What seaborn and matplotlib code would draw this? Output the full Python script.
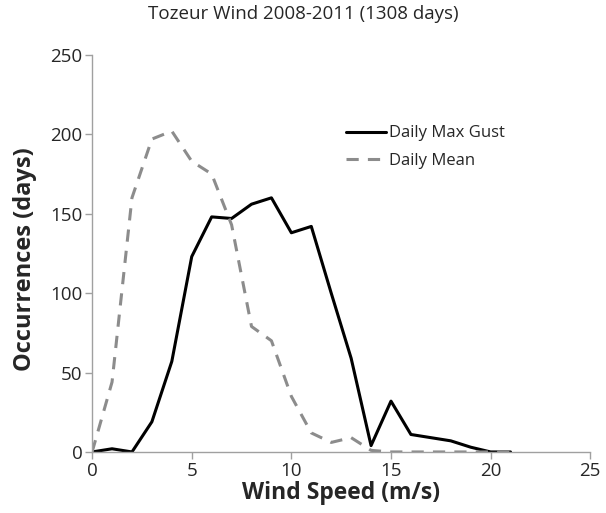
import pandas as pd
import matplotlib.pyplot as plt
import seaborn as sns

# wind speed bins (m/s) and occurrences (days)
speed = list(range(0, 22))
max_gust = [0, 2, 0, 19, 57, 123, 148, 147, 156, 160, 138, 142,
            100, 59, 4, 32, 11, 9, 7, 3, 0, 0]
daily_mean = [0, 44, 160, 197, 202, 183, 175, 143, 79, 70, 35, 12,
              6, 9, 1, 0, 0, 0, 0, 0, 0, 0]

data = pd.DataFrame({"Speed": speed, "Gust": max_gust, "Mean": daily_mean})

sns.set_style("white")
plt.rcParams['font.family'] = ['Open Sans', 'DejaVu Sans']

fig = plt.figure(figsize=(6.06, 5.13), dpi=100)
ax = fig.add_axes([0.152, 0.119, 0.822, 0.774])

sns.lineplot(data=data, x="Speed", y="Gust", color="black", linewidth=2.2,
             label="Daily Max Gust", ax=ax)
sns.lineplot(data=data, x="Speed", y="Mean", color="#8c8c8c", linewidth=2.2,
             linestyle=(0, (4, 3)), label="Daily Mean", ax=ax)

ax.set_xlim(0, 25)
ax.set_ylim(0, 250)
ax.set_xticks(range(0, 26, 5))
ax.set_yticks(range(0, 251, 50))
ax.tick_params(axis="both", labelsize=13.5, length=5, width=1, color="#a0a0a0",
               direction="out", bottom=True, left=True, pad=2)
for side in ["top", "right"]:
    ax.spines[side].set_visible(False)
for side in ["left", "bottom"]:
    ax.spines[side].set_color("#a0a0a0")
    ax.spines[side].set_linewidth(1)

ax.set_xlabel("Wind Speed (m/s)", fontsize=16.5, fontweight="bold", labelpad=1)
ax.set_ylabel("Occurrences (days)", fontsize=17, fontweight="bold")
ax.yaxis.set_label_coords(-0.11, 0.485)
fig.suptitle("Tozeur Wind 2008-2011 (1308 days)", fontsize=13.5, y=0.99)

ax.legend(loc="upper left", bbox_to_anchor=(0.48, 0.86), frameon=False,
          fontsize=12, handlelength=2.4, handletextpad=0.15, labelspacing=0.7)

fig.savefig("out.png", dpi=100)
